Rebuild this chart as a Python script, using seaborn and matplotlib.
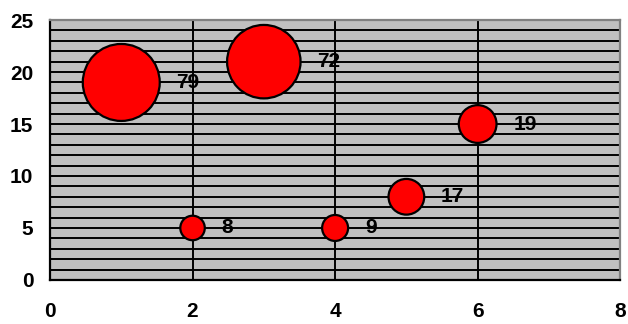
import numpy as np
import pandas as pd
import matplotlib
matplotlib.use("Agg")
import matplotlib.pyplot as plt
import seaborn as sns

# === Data ===
x_vals = [1, 3, 2, 4, 5, 6]
y_vals = [19, 21, 5, 5, 8, 15]
bubble_vals = [79, 72, 8, 9, 17, 19]

df = pd.DataFrame({"x": x_vals, "y": y_vals, "v": bubble_vals})

sns.set_style("white")
plt.rcParams["font.family"] = ["Liberation Sans", "DejaVu Sans"]
plt.rcParams["font.weight"] = "bold"
plt.rcParams["text.color"] = "black"

fig = plt.figure(figsize=(6.28, 3.24), dpi=100)
ax = fig.add_axes([0.0796, 0.136, 0.908, 0.802])
ax.set_facecolor("#C0C0C0")

# horizontal lines every unit, vertical at major x ticks
for yy in range(1, 25):
    ax.axhline(yy, color="black", lw=1.4, zorder=1)
for xx in [2, 4, 6]:
    ax.axvline(xx, color="black", lw=1.4, zorder=1)

max_area = 3070
sns.scatterplot(data=df, x="x", y="y", size="v", sizes=(0, max_area), size_norm=(0, 79),
                color="#FF0000", edgecolor="black", linewidth=1.6, legend=False,
                alpha=1, ax=ax, zorder=3)

# bubble labels, to the right of each bubble
for xv, yv, v in zip(x_vals, y_vals, bubble_vals):
    r_pt = np.sqrt(max_area * v / 79) / 2
    ax.annotate(str(v), (xv, yv), xytext=(r_pt + 12, 0), textcoords="offset points",
                ha="left", va="center", fontsize=15, fontweight="bold",
                color="black", zorder=4)

ax.set_xlim(0, 8)
ax.set_ylim(0, 25)
ax.set_xticks([0, 2, 4, 6, 8])
ax.set_yticks([0, 5, 10, 15, 20, 25])
ax.tick_params(axis="both", direction="out", length=6, width=1.4, colors="black",
               labelsize=15, pad=6)
ax.tick_params(axis="x", pad=10)
for lbl in ax.get_xticklabels() + ax.get_yticklabels():
    lbl.set_fontweight("bold")
    lbl.set_color("black")
ax.set_xlabel("")
ax.set_ylabel("")

for side in ["left", "bottom"]:
    ax.spines[side].set_color("black")
    ax.spines[side].set_linewidth(1.6)
for side in ["top", "right"]:
    ax.spines[side].set_color("#808080")
    ax.spines[side].set_linewidth(1.6)

fig.savefig("out.png", dpi=100)
